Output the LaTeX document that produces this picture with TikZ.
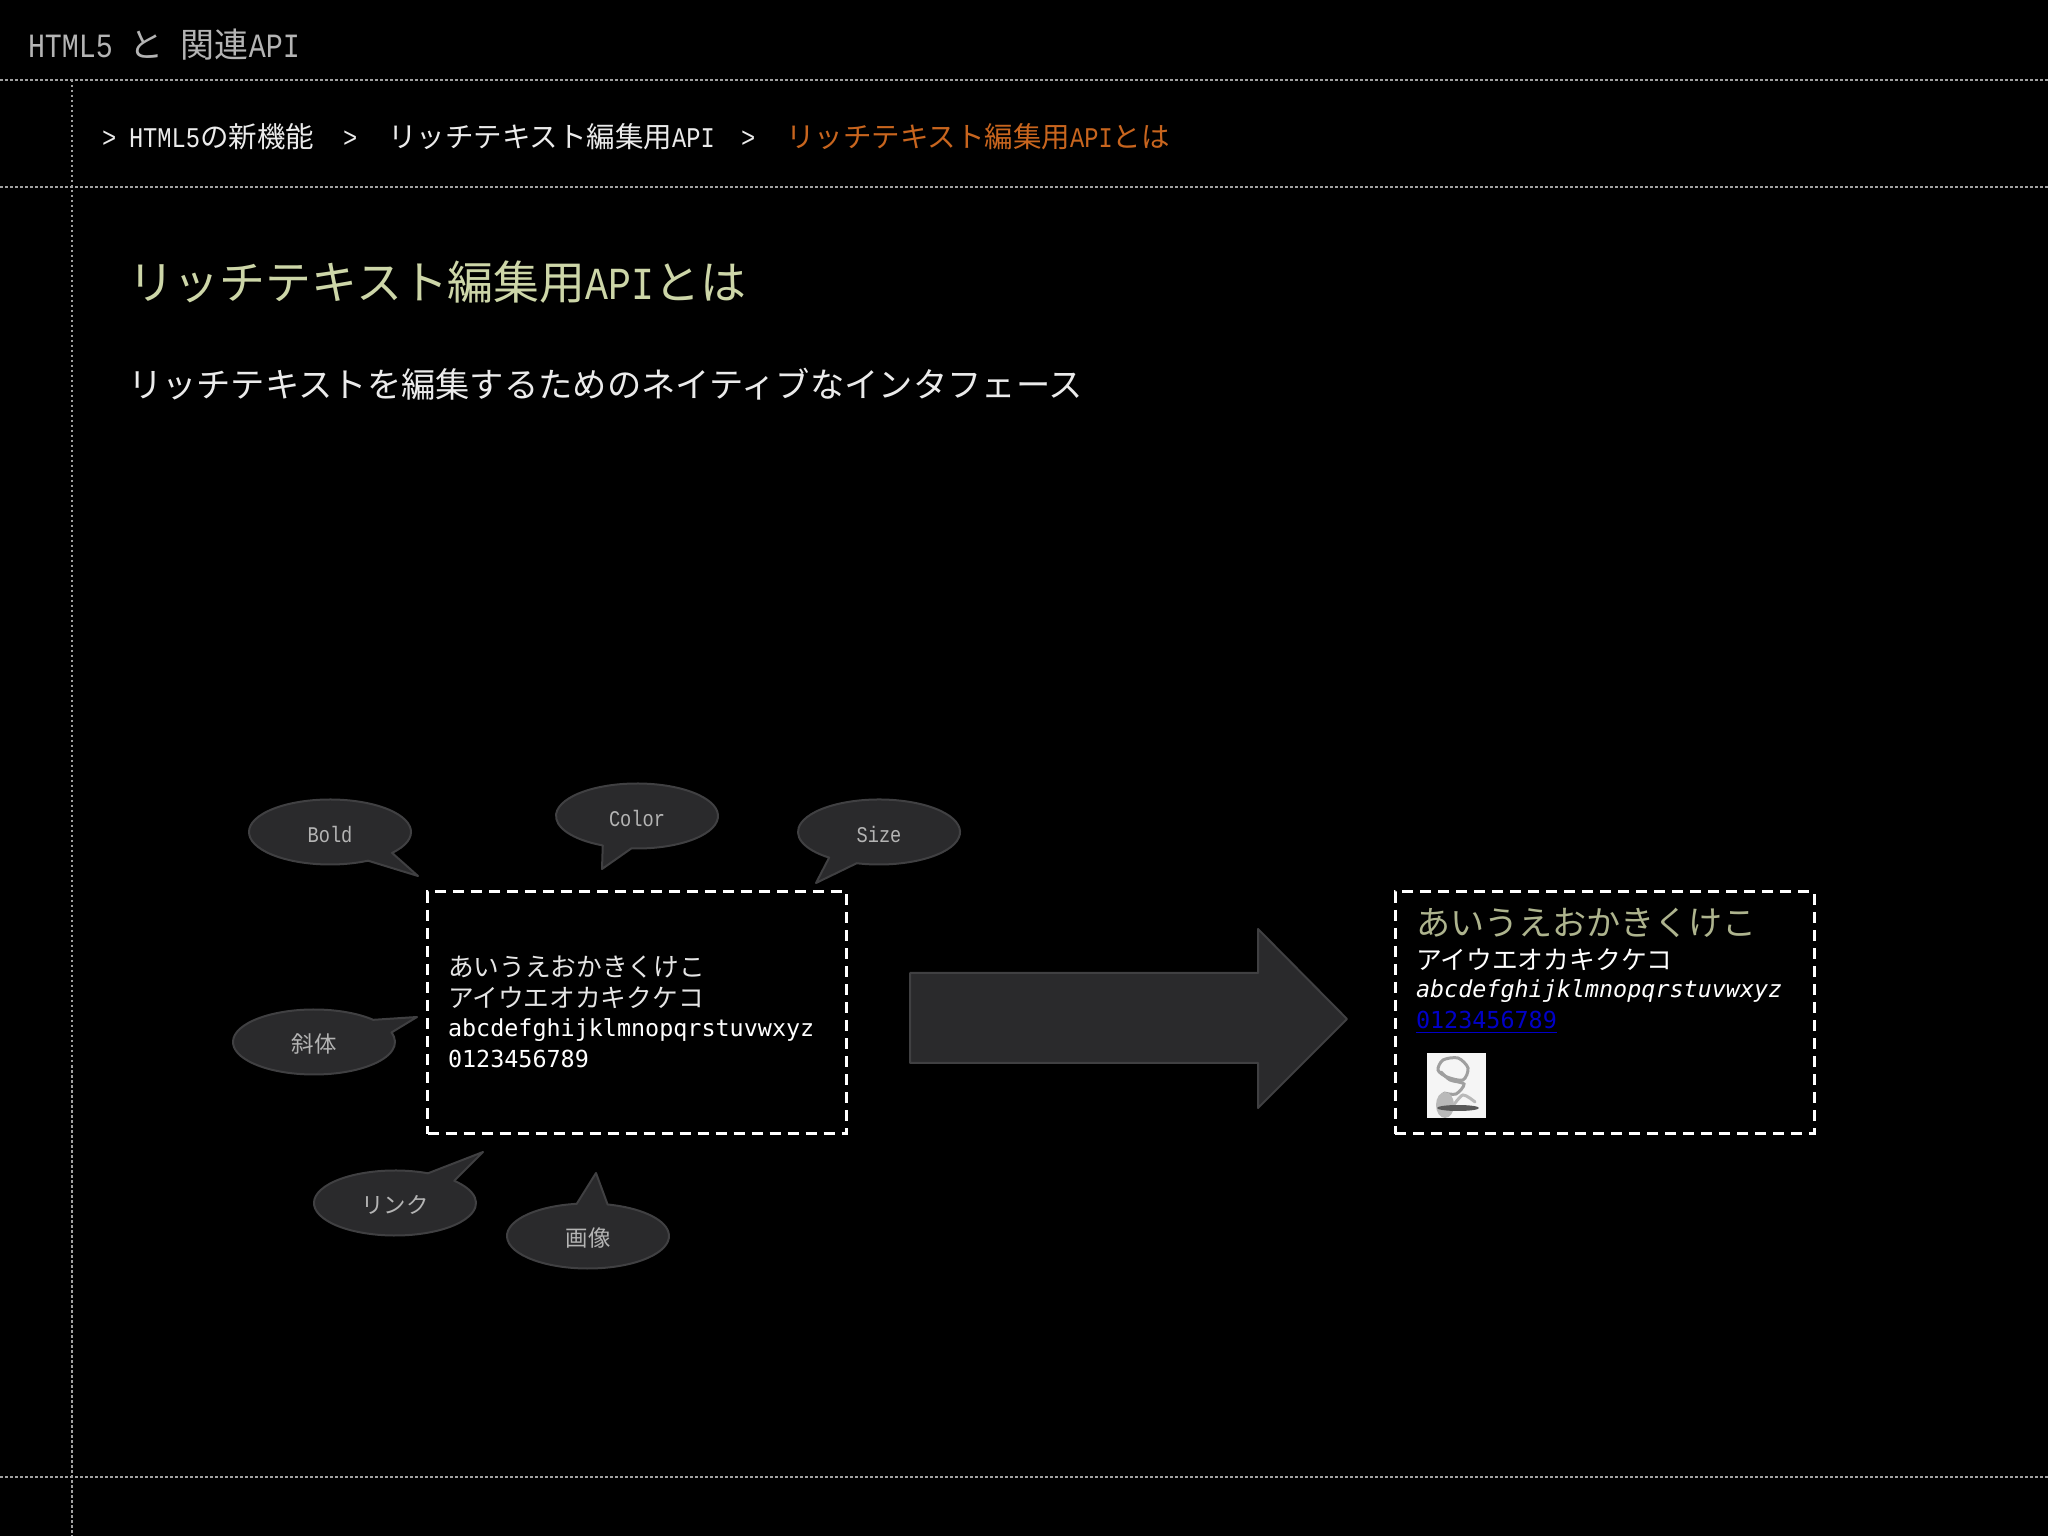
\documentclass[tikz,border=0pt]{standalone}
\usepackage{fontspec}
\setmainfont{Noto Sans CJK JP}
\setmonofont{DejaVu Sans Mono}
\newfontfamily\latfont[FakeStretch=.833]{Liberation Mono}
\usetikzlibrary{positioning}
\usetikzlibrary{shapes.geometric}

\definecolor{bgblack}{HTML}{000000}
\definecolor{rulegray}{HTML}{A0A0A0}
\definecolor{shapefill}{HTML}{2A2A2C}
\definecolor{shapeline}{HTML}{404042}
\definecolor{labelgray}{HTML}{B4B4B4}
\definecolor{crumborange}{HTML}{C8651E}
\definecolor{headgreen}{HTML}{CDD6A8}
\definecolor{kanagreen}{HTML}{AEB48E}
\definecolor{linkblue}{HTML}{0000C8}

\tikzset{
	rule/.style={draw=rulegray,line width=1.25pt,dash pattern=on 1.25pt off 1.25pt},
	txt/.style={anchor=base west,inner sep=0pt,outer sep=0pt},
	crumb/.style={txt,text=white!92!black,font=\fontsize{14.25}{14}\selectfont},
	bubble/.style={draw=shapeline,fill=shapefill,line width=1pt,line join=round},
	bubbletxt/.style={inner sep=0pt,text=labelgray,font=\fontsize{11.2}{12}\selectfont},
	dashbox/.style={draw=white,line width=1.5pt,dash pattern=on 5.5pt off 3.5pt,minimum width=209.5pt,minimum height=121pt,inner sep=0pt},
	kana/.style={txt,text=white!90!black,font=\fontsize{12.85}{13}\selectfont},
	alpha/.style={txt,text=white,font=\ttfamily\fontsize{11.7}{12}\selectfont},
	sketch/.style={draw=gray!75,line width=1.5pt,line cap=round},
}

\begin{document}
\begin{tikzpicture}[x=.5pt,y=.5pt,font=\fontsize{14}{14}\selectfont]
	\fill[bgblack] (0,0) rectangle (2048,1536);
	\useasboundingbox (0,0) rectangle (2048,1536);

	% rules
	\draw[rule] (0,1456) -- (2048,1456);
	\draw[rule] (0,1349) -- (2048,1349);
	\draw[rule] (0,59) -- (2048,59);
	\draw[rule] (72,1456) -- (72,0);

	% header
	\node [txt,text=labelgray,font=\fontsize{17}{17}\selectfont] at (28,1478) (title) {{\latfont HTML5 }と{\latfont\ }関連{\latfont API}};
	\node [crumb] at (102,1388) (crumb0_sep) {{\latfont >}};
	\node [crumb] at (129,1388) (crumb0) {{\latfont HTML5}の新機能};
	\node [crumb] at (343,1388) (crumb1_sep) {{\latfont >}};
	\node [crumb] at (388,1388) (crumb1) {リッチテキスト編集用{\latfont API}};
	\node [crumb] at (741,1388) (crumb2_sep) {{\latfont >}};
	\node [crumb,text=crumborange] at (786,1388) (crumb2) {リッチテキスト編集用{\latfont API}とは};

	\node [txt,text=headgreen,font=\fontsize{22.95}{23}\selectfont] at (128,1236) (heading) {リッチテキスト編集用{\latfont API}とは};
	\node [txt,text=white!92!black,font=\fontsize{17.15}{17}\selectfont] at (128,1138) (subtitle) {リッチテキストを編集するためのネイティブなインタフェース};

	% source box
	\node [dashbox] at (637,523) (box_src) {};
	\node [kana] at (448,559) (src_hira) {あいうえおかきくけこ};
	\node [kana] at (448,528) (src_kata) {アイウエオカキクケコ};
	\node [alpha] at (448,499) (src_abc) {abcdefghijklmnopqrstuvwxyz};
	\node [alpha] at (448,468) (src_num) {0123456789};

	% callouts
	\draw[bubble] (330,704) ++(-40:81 and 32.5) arc[start angle=-40,end angle=298,x radius=81,y radius=32.5] -- (418,660) -- cycle;
	\node [bubbletxt] at (330,701) (bold) {{\latfont Bold}};
	\draw[bubble] (637,720) ++(266:81 and 32.5) arc[start angle=266,end angle=605,x radius=81,y radius=32.5] -- (602,667) -- cycle;
	\node [bubbletxt] at (637,717) (color) {{\latfont Color}};
	\draw[bubble] (879,704) ++(254:81 and 32.5) arc[start angle=254,end angle=592,x radius=81,y radius=32.5] -- (816,653) -- cycle;
	\node [bubbletxt] at (879,701) (size) {{\latfont Size}};
	\draw[bubble] (314,494) ++(43:81 and 32.5) arc[start angle=43,end angle=377,x radius=81,y radius=32.5] -- (417,519) -- cycle;
	\node [bubbletxt] at (314,492) (italic) {斜体};
	\draw[bubble] (395,333) ++(66:81 and 32.5) arc[start angle=66,end angle=403,x radius=81,y radius=32.5] -- (483,384) -- cycle;
	\node [bubbletxt] at (395,331) (link) {リンク};
	\draw[bubble] (588,300) ++(98:81 and 32.5) arc[start angle=98,end angle=436,x radius=81,y radius=32.5] -- (596,363) -- cycle;
	\node [bubbletxt] at (588,298) (image) {画像};

	% big arrow
	\draw[bubble] (910,563) -- (1258,563) -- (1258,607) -- (1347,517) -- (1258,428) -- (1258,473) -- (910,473) -- cycle;

	% result box
	\node [dashbox] at (1604.5,523) (box_dst) {};
	\node [txt,text=kanagreen,font=\fontsize{17.05}{17}\selectfont] at (1416,600) (dst_hira) {あいうえおかきくけこ};
	\node [kana,text=white,font=\fontsize{12.9}{13}\selectfont] at (1416,566) (dst_kata) {アイウエオカキクケコ};
	\node [alpha,font=\ttfamily\itshape\fontsize{11.7}{12}\selectfont] at (1416,538) (dst_abc) {abcdefghijklmnopqrstuvwxyz};
	\node [alpha,text=linkblue] at (1416,507) (dst_num) {\underline{0123456789}};

	% small picture
	\node [fill=white!96!black,minimum width=29.5pt,minimum height=32.5pt,inner sep=0pt,outer sep=0pt] at (1456.5,450.5) (thumb) {};
	\draw[sketch] plot[smooth cycle] coordinates {(1458,478) (1468,468) (1463,456) (1447,459) (1438,466) (1443,476)};
	\draw[sketch] plot[smooth] coordinates {(1441,464) (1450,456) (1464,452) (1456,442) (1444,443)};
	\fill[gray!55] (1445,431) ellipse (9 and 13);
	\draw[sketch,gray!55] plot[smooth] coordinates {(1453,430) (1463,441) (1475,434)};
	\fill[black!65] (1458,428) ellipse (21 and 3);
\end{tikzpicture}
\end{document}
